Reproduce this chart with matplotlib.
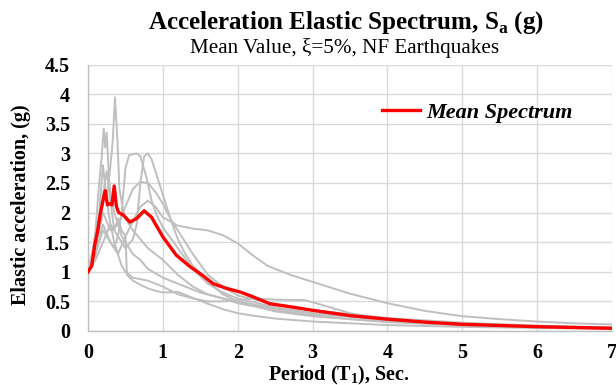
import matplotlib
matplotlib.use("Agg")
import matplotlib.pyplot as plt

# ---- data ----
t_mean = [0, 0.05, 0.09, 0.13, 0.16, 0.2, 0.23, 0.26, 0.29, 0.32, 0.35, 0.38, 0.41, 0.47, 0.56, 0.65, 0.75, 0.85,
          1.0, 1.18, 1.36, 1.54, 1.67, 1.85, 2.03, 2.2, 2.43, 2.7, 3.0, 3.5, 4.0, 4.5, 5.0, 6.0, 7.0]
sa_mean = [1.0, 1.1, 1.45, 1.7, 1.95, 2.2, 2.37, 2.13, 2.15, 2.13, 2.45, 2.1, 2.0, 1.96, 1.84, 1.9, 2.03, 1.92,
           1.59, 1.28, 1.09, 0.93, 0.8, 0.72, 0.66, 0.58, 0.46, 0.41, 0.35, 0.26, 0.2, 0.15, 0.113, 0.073, 0.045]

t_a = [0, 0.05, 0.1, 0.15, 0.2, 0.25, 0.3, 0.33, 0.36, 0.39, 0.42, 0.46, 0.5, 0.6, 0.7, 0.8, 0.9, 1.0, 1.2, 1.4,
       1.6, 1.8, 2.0, 2.5, 3, 3.5, 4, 5, 6, 7]
sa_a = [1.0, 1.3, 1.6, 1.9, 2.3, 2.2, 2.8, 3.2, 3.95, 3.3, 2.4, 2.1, 1.9, 1.7, 1.55, 1.4, 1.3, 1.2, 0.95, 0.75,
        0.62, 0.55, 0.47, 0.35, 0.27, 0.2, 0.16, 0.1, 0.07, 0.05]

t_b = [0, 0.05, 0.1, 0.15, 0.18, 0.21, 0.23, 0.25, 0.28, 0.3, 0.35, 0.4, 0.45, 0.5, 0.6, 0.7, 0.8, 1.0, 1.2, 1.5,
       1.8, 2, 2.5, 3, 4, 5, 6, 7]
sa_b = [1.0, 1.2, 1.7, 2.5, 2.9, 3.42, 3.1, 3.35, 2.6, 2.3, 2.0, 1.8, 1.6, 1.5, 1.3, 1.2, 1.05, 0.9, 0.8, 0.65,
        0.55, 0.5, 0.38, 0.3, 0.18, 0.11, 0.08, 0.05]

t_c = [0, 0.1, 0.2, 0.3, 0.35, 0.4, 0.45, 0.5, 0.55, 0.65, 0.7, 0.78, 0.85, 0.92, 1.0, 1.2, 1.4, 1.6, 1.8, 2.0,
       2.5, 3, 4, 5, 6, 7]
sa_c = [1.0, 1.3, 1.7, 1.5, 1.4, 1.6, 2.0, 2.75, 2.97, 3.0, 2.95, 2.6, 2.2, 1.95, 1.75, 1.4, 1.05, 0.8, 0.65, 0.55,
        0.4, 0.3, 0.19, 0.12, 0.08, 0.06]

t_d = [0, 0.1, 0.2, 0.3, 0.4, 0.5, 0.6, 0.65, 0.7, 0.75, 0.8, 0.85, 0.9, 1.0, 1.1, 1.2, 1.3, 1.4, 1.6, 1.8, 2.0,
       2.5, 3, 4, 5, 6, 7]
sa_d = [1.0, 1.2, 1.5, 1.8, 1.6, 1.4, 1.55, 1.8, 2.5, 2.95, 3.0, 2.9, 2.7, 2.3, 1.9, 1.55, 1.3, 1.1, 0.85, 0.62,
        0.5, 0.33, 0.25, 0.15, 0.1, 0.07, 0.05]

t_e = [0, 0.1, 0.2, 0.3, 0.4, 0.5, 0.6, 0.7, 0.8, 0.9, 1.0, 1.1, 1.2, 1.3, 1.4, 1.6, 1.8, 2.0, 2.5, 3, 4, 5, 6, 7]
sa_e = [1.0, 1.4, 2.0, 1.7, 1.8, 2.1, 2.4, 2.52, 2.5, 2.35, 2.15, 1.9, 1.7, 1.5, 1.3, 0.95, 0.75, 0.6, 0.45, 0.35,
        0.22, 0.14, 0.09, 0.06]

t_f = [0, 0.1, 0.2, 0.3, 0.4, 0.5, 0.6, 0.7, 0.8, 0.9, 1.0, 1.1, 1.2, 1.4, 1.6, 1.8, 2.0, 2.2, 2.4, 2.7, 3, 3.5,
       4, 4.5, 5, 5.5, 6, 6.5, 7]
sa_f = [1.0, 1.3, 1.8, 1.5, 1.3, 1.6, 1.85, 2.1, 2.2, 2.1, 1.92, 1.85, 1.78, 1.73, 1.7, 1.62, 1.48, 1.28, 1.1,
        0.95, 0.83, 0.63, 0.47, 0.34, 0.25, 0.2, 0.16, 0.13, 0.11]

t_g1 = [0, 0.1, 0.2, 0.25, 0.3, 0.35, 0.4, 0.45, 0.5, 0.52, 0.6, 0.7, 0.8, 0.9, 1.0, 1.2, 1.4, 1.6, 1.8, 2.0,
        2.2, 2.5, 3, 4, 5, 6, 7]
sa_g1 = [1.0, 1.5, 2.3, 2.7, 2.2, 1.7, 1.9, 1.7, 1.6, 0.95, 0.85, 0.78, 0.72, 0.68, 0.65, 0.66, 0.56, 0.46, 0.37,
         0.3, 0.26, 0.21, 0.16, 0.1, 0.07, 0.05, 0.04]

t_g2 = [0, 0.1, 0.15, 0.2, 0.25, 0.3, 0.35, 0.4, 0.45, 0.5, 0.6, 0.8, 1.0, 1.2, 1.4, 1.6, 1.8, 2.0, 2.2, 2.5, 2.9,
        3.1, 3.5, 4, 5, 6, 7]
sa_g2 = [1.0, 1.3, 2.0, 2.8, 2.2, 1.8, 1.5, 1.3, 1.1, 1.0, 0.9, 0.85, 0.75, 0.62, 0.55, 0.5, 0.5, 0.52, 0.55, 0.53,
         0.52, 0.45, 0.3, 0.2, 0.12, 0.08, 0.05]

records = [(t_a, sa_a), (t_b, sa_b), (t_c, sa_c), (t_d, sa_d), (t_e, sa_e), (t_f, sa_f), (t_g1, sa_g1), (t_g2, sa_g2)]

x_ticks = [0, 1, 2, 3, 4, 5, 6, 7]
y_ticks = [0, 0.5, 1, 1.5, 2, 2.5, 3, 3.5, 4, 4.5]
y_tick_labels = ["0", "0.5", "1", "1.5", "2", "2.5", "3", "3.5", "4", "4.5"]

plt.rcParams['font.family'] = ['Liberation Serif', 'DejaVu Serif']
plt.rcParams['mathtext.fontset'] = 'custom'
plt.rcParams['mathtext.rm'] = 'Liberation Serif'
plt.rcParams['mathtext.bf'] = 'Liberation Serif:bold'

fig = plt.figure(figsize=(6.16, 3.85), dpi=100)
ax = fig.add_axes([88/616, 1-331/385, (612-88)/616, (331-64.6)/385])

for t, s in records:
    ax.plot(t, s, color='#bfbfbf', lw=1.4, zorder=2)
ax.plot(t_mean, sa_mean, color='#ff0000', lw=2.4, zorder=3, label='Mean Spectrum')

ax.set_xlim(0, 7)
ax.set_ylim(0, 4.5)
ax.set_xticks(x_ticks)
ax.set_yticks(y_ticks)
ax.set_yticklabels(y_tick_labels)
ax.grid(True, color='#d9d9d9', lw=1.0, zorder=0)
ax.set_axisbelow(True)
for s in ['top', 'right']:
    ax.spines[s].set_visible(False)
for s in ['left', 'bottom']:
    ax.spines[s].set_color('#bfbfbf')
    ax.spines[s].set_linewidth(1.0)
ax.tick_params(length=0, labelsize=14.5)
for lab in ax.get_xticklabels() + ax.get_yticklabels():
    lab.set_fontweight('bold')
ax.tick_params(axis='y', pad=13)
ax.tick_params(axis='x', pad=9)

ax.set_xlabel('Period (T$_\\mathbf{1}$), Sec.', fontsize=14.5, fontweight='bold')
ax.set_ylabel('Elastic acceleration, (g)', fontsize=14.5, fontweight='bold')
ax.xaxis.set_label_coords((339-88)/524, -(375-331)/266.4)
ax.xaxis.label.set_va('center')
ax.yaxis.set_label_coords(-(88-21)/524, (331-205)/266.4)
ax.yaxis.label.set_va('center')

fig.text(346/616, 1-23/385, 'Acceleration Elastic Spectrum, S$_\\mathbf{a}$ (g)', ha='center', va='center',
         fontsize=18, fontweight='bold')
fig.text(345/616, 1-48/385, 'Mean Value, ξ=5%, NF Earthquakes', ha='center', va='center', fontsize=15.2)

leg = ax.legend(loc='center left', bbox_to_anchor=(0.523, 0.82), frameon=False, handlelength=1.7,
                handletextpad=0.3, prop={'weight': 'bold', 'style': 'italic', 'size': 16})

fig.savefig('out.png', dpi=100)
